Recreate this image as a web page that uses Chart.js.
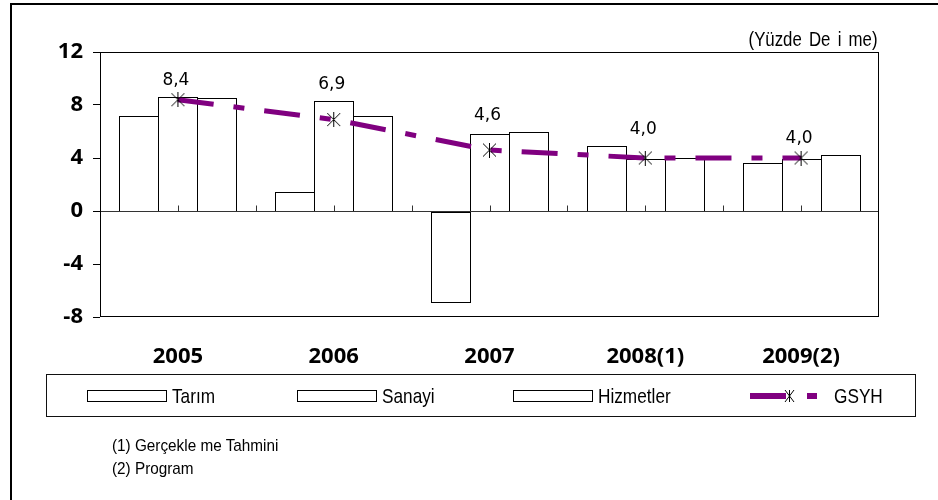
<!DOCTYPE html>
<html lang="tr">
<head>
<meta charset="utf-8">
<script src="https://cdn.jsdelivr.net/npm/chart.js@4/dist/chart.umd.min.js"></script>
<style>
  html, body { margin: 0; padding: 0; background: #fff; }
  #wrap { position: relative; width: 938px; height: 500px; overflow: hidden; background: #fff; }
  #edge { position: absolute; left: 10px; top: 3px; right: -5px; bottom: -5px;
          border-top: 2px solid #000; border-left: 2px solid #000; }
  #c { position: absolute; left: 0; top: 0; }
  .txt { font-family: "Liberation Sans", Arial, sans-serif; color: #000; white-space: pre; }
  .sq { display: inline-block; transform-origin: 0 50%; }
  #unit { position: absolute; right: 61px; top: 27px; font-size: 20px; line-height: 24px;
          transform: scaleX(0.84); transform-origin: 100% 50%; word-spacing: 3px; }
  #legend { position: absolute; left: 46px; top: 374px; width: 868px; height: 41px; border: 1px solid #111; }
  .item { position: absolute; top: 0; height: 41px; display: flex; align-items: center; font-size: 21px; }
  .item .sq { transform: scaleX(0.82); }
  .swatch { width: 78px; height: 10px; border: 1px solid #000; background: #fff; margin-right: 5px; flex: none; }
  #notes { position: absolute; left: 112px; top: 434px; font-size: 17px; line-height: 23px; }
  #notes .sq { transform: scaleX(0.9); }
</style>
</head>
<body>
<div id="wrap">
  <canvas id="c" width="938" height="500"></canvas>
  <div id="edge"></div>
  <div id="unit" class="txt">(Yüzde De i me)</div>
  <div id="legend" class="txt">
    <div class="item" style="left:40px"><div class="swatch"></div><span class="sq">Tarım</span></div>
    <div class="item" style="left:250px"><div class="swatch"></div><span class="sq">Sanayi</span></div>
    <div class="item" style="left:466px"><div class="swatch"></div><span class="sq">Hizmetler</span></div>
    <div class="item" style="left:703px">
      <svg width="80" height="20" viewBox="0 0 80 20" style="margin-right:4px;flex:none">
        <line x1="0" y1="10" x2="36" y2="10" stroke="#800080" stroke-width="6"/>
        <line x1="39.5" y1="4" x2="39.5" y2="16" stroke="#000" stroke-width="1"/>
        <line x1="35" y1="4" x2="44" y2="16" stroke="#000" stroke-width="1"/>
        <line x1="44" y1="4" x2="35" y2="16" stroke="#000" stroke-width="1"/>
        <line x1="57" y1="10" x2="67" y2="10" stroke="#800080" stroke-width="6"/>
      </svg><span class="sq">GSYH</span>
    </div>
  </div>
  <div id="notes" class="txt"><span class="sq">(1) Gerçekle me Tahmini</span><br><span class="sq">(2) Program</span></div>
</div>
<script>
// Sectoral growth rates, percent change
const years = ['2005', '2006', '2007', '2008(1)', '2009(2)'];
const tarim = [7.2, 1.4, -6.9, 4.9, 3.6];
const sanayi = [8.6, 8.3, 5.8, 3.9, 3.9];
const hizmetler = [8.5, 7.2, 6.0, 4.0, 4.2];
const gsyh = [8.4, 6.9, 4.6, 4.0, 4.0];
const yTicks = [-8, -4, 0, 4, 8, 12];

// Asterisk marker: an X with a vertical stroke
function starMarker(size) {
  const cv = document.createElement('canvas');
  cv.width = size; cv.height = size;
  const g = cv.getContext('2d');
  g.strokeStyle = '#000'; g.lineWidth = 1;
  const m = Math.floor(size / 2) + 0.5;
  g.beginPath();
  g.moveTo(1, 1); g.lineTo(size - 1, size - 1);
  g.moveTo(size - 1, 1); g.lineTo(1, size - 1);
  g.moveTo(m, 0); g.lineTo(m, size);
  g.stroke();
  return cv;
}

const barStyle = { backgroundColor: '#fff', borderColor: '#000', borderWidth: 1, borderSkipped: false,
                   inflateAmount: 0, categoryPercentage: 0.75, barPercentage: 1.0, order: 1 };

// Snap bar edges to whole pixels so neighbouring bars share one outline
const snapBars = {
  id: 'snapBars',
  beforeDatasetsDraw(chart) {
    [0, 1, 2].forEach(d => {
      chart.getDatasetMeta(d).data.forEach(el => {
        const l = Math.round(el.x - el.width / 2);
        const r = Math.round(el.x + el.width / 2);
        el.width = r - l + 1;
        el.x = l + el.width / 2;
        const base = Math.round(el.base);
        const top = Math.round(el.y);
        if (top < base) { el.y = top; el.base = base + 1; }
        else { el.y = top + 1; el.base = base; }
        el.height = el.base - el.y;
      });
    });
  }
};

// Plot frame plus the zero line with its small upward ticks
const framePlugin = {
  id: 'framePlugin',
  afterDatasetsDraw(chart) {
    const { ctx, chartArea: a, scales: { x, y } } = chart;
    ctx.save();
    ctx.lineWidth = 1;
    const y0 = Math.round(y.getPixelForValue(0)) + 0.5;
    ctx.strokeStyle = '#333';
    ctx.beginPath();
    ctx.moveTo(a.left, y0); ctx.lineTo(a.right, y0);
    const half = (x.getPixelForValue(1) - x.getPixelForValue(0)) / 2;
    for (let i = 0; i < years.length; i++) {
      const cx = x.getPixelForValue(i);
      [cx, cx + half].forEach(px => {
        if (px < a.right - 2) {
          const p = Math.round(px) + 0.5;
          ctx.moveTo(p, y0); ctx.lineTo(p, y0 - 6);
        }
      });
    }
    ctx.stroke();
    ctx.strokeStyle = '#000';
    ctx.strokeRect(Math.round(a.left) + 0.5, Math.round(a.top) + 0.5,
                   Math.round(a.width) - 1, Math.round(a.height) - 1);
    ctx.restore();
  }
};

// GSYH value labels, placed above the tallest bar of each year
const labelPlugin = {
  id: 'labelPlugin',
  afterDraw(chart) {
    const { ctx } = chart;
    const line = chart.getDatasetMeta(3);
    ctx.save();
    ctx.font = '17px "DejaVu Sans", sans-serif';
    ctx.fillStyle = '#000';
    ctx.textAlign = 'center';
    ctx.textBaseline = 'middle';
    line.data.forEach((pt, i) => {
      let top = Infinity;
      [0, 1, 2].forEach(d => {
        const el = chart.getDatasetMeta(d).data[i];
        top = Math.min(top, el.y, el.base);
      });
      ctx.fillText(gsyh[i].toFixed(1).replace('.', ','), pt.x - 2, top - 16);
    });
    ctx.restore();
  }
};

new Chart(document.getElementById('c'), {
  data: {
    labels: years,
    datasets: [
      Object.assign({ type: 'bar', label: 'Tarım', data: tarim }, barStyle),
      Object.assign({ type: 'bar', label: 'Sanayi', data: sanayi }, barStyle),
      Object.assign({ type: 'bar', label: 'Hizmetler', data: hizmetler }, barStyle),
      {
        type: 'line', label: 'GSYH', data: gsyh, order: 0,
        borderColor: '#800080', borderWidth: 5, borderDash: [36, 20, 11, 20],
        borderCapStyle: 'butt', tension: 0, fill: false,
        pointStyle: starMarker(15), pointRadius: 7, pointHoverRadius: 7
      }
    ]
  },
  options: {
    responsive: false,
    devicePixelRatio: 1,
    animation: false,
    events: [],
    layout: { padding: { left: 0, top: 52, right: 59, bottom: 0 } },
    plugins: { legend: { display: false }, title: { display: false }, tooltip: { enabled: false } },
    scales: {
      x: {
        grid: { display: false },
        border: { display: false },
        ticks: { color: '#000', padding: 19, maxRotation: 0,
                 font: { family: '"Open Sans", sans-serif', size: 22, weight: 'bold' } },
        afterFit(s) { s.height = 183; }
      },
      y: {
        min: -8, max: 12,
        afterBuildTicks(s) { s.ticks = yTicks.map(v => ({ value: v })); },
        grid: { drawOnChartArea: false, drawTicks: true, tickLength: 7, color: '#000' },
        border: { display: false },
        ticks: { color: '#000', padding: 10,
                 font: { family: '"Open Sans", sans-serif', size: 22, weight: 'bold' } },
        afterFit(s) { s.width = 100; }
      }
    }
  },
  plugins: [snapBars, framePlugin, labelPlugin]
});
</script>
</body>
</html>
